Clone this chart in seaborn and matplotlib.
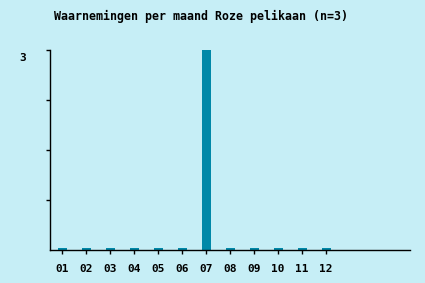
import matplotlib
matplotlib.use("Agg")
import matplotlib.pyplot as plt
import matplotlib.transforms as mtransforms
import seaborn as sns
import pandas as pd

months = ["01", "02", "03", "04", "05", "06", "07", "08", "09", "10", "11", "12"]
counts = [0, 0, 0, 0, 0, 0, 3, 0, 0, 0, 0, 0]
title = "Waarnemingen per maand Roze pelikaan (n=3)"
ytick_values = [0.75, 1.5, 2.25, 3]
ytick_labels = ["", "", "", "3"]

bg = "#c6eef6"
bar_color = "#0088a8"
font = "DejaVu Sans Mono"

sns.set_theme(style="white")
plt.rcParams["font.family"] = [font]

fig = plt.figure(figsize=(4.25, 2.83), dpi=100, facecolor=bg)
ax = fig.add_axes([50 / 425, 33 / 283, 360 / 425, 200 / 283])
ax.set_facecolor(bg)

# minimum visible height for zero bars (display only)
disp = [max(c, 0.03) for c in counts]
df = pd.DataFrame({"month": months, "count": disp})
sns.barplot(data=df, x="month", y="count", color=bar_color, saturation=1,
            width=0.375, ax=ax, linewidth=0)

ax.set_xlim(-0.5, 14.5)
ax.set_ylim(0, 3)
ax.set_xlabel("")
ax.set_ylabel("")

for s in ["top", "right"]:
    ax.spines[s].set_visible(False)
for s in ["left", "bottom"]:
    ax.spines[s].set_color("black")
    ax.spines[s].set_linewidth(1.0)

ax.set_xticks(range(len(months)))
ax.set_xticklabels(months, fontsize=8, fontweight="bold", family=font, color="black")
ax.tick_params(axis="x", bottom=True, direction="out", length=3, width=1,
               color="black", labelcolor="black", pad=7)
ax.set_yticks(ytick_values)
ax.set_yticklabels(ytick_labels, fontsize=8, fontweight="bold", family=font, color="black")
ax.tick_params(axis="y", left=True, direction="out", length=3, width=1,
               color="black", labelcolor="black", pad=14.5)
offset = mtransforms.ScaledTranslation(0, -7 / 100, fig.dpi_scale_trans)
for lab in ax.get_yticklabels():
    lab.set_transform(lab.get_transform() + offset)

fig.text(201 / 425, 1 - 16 / 283, title, ha="center", va="center",
         fontsize=8.4, fontweight="bold", family=font, color="black")

fig.savefig("out.png", dpi=100, facecolor=bg)
